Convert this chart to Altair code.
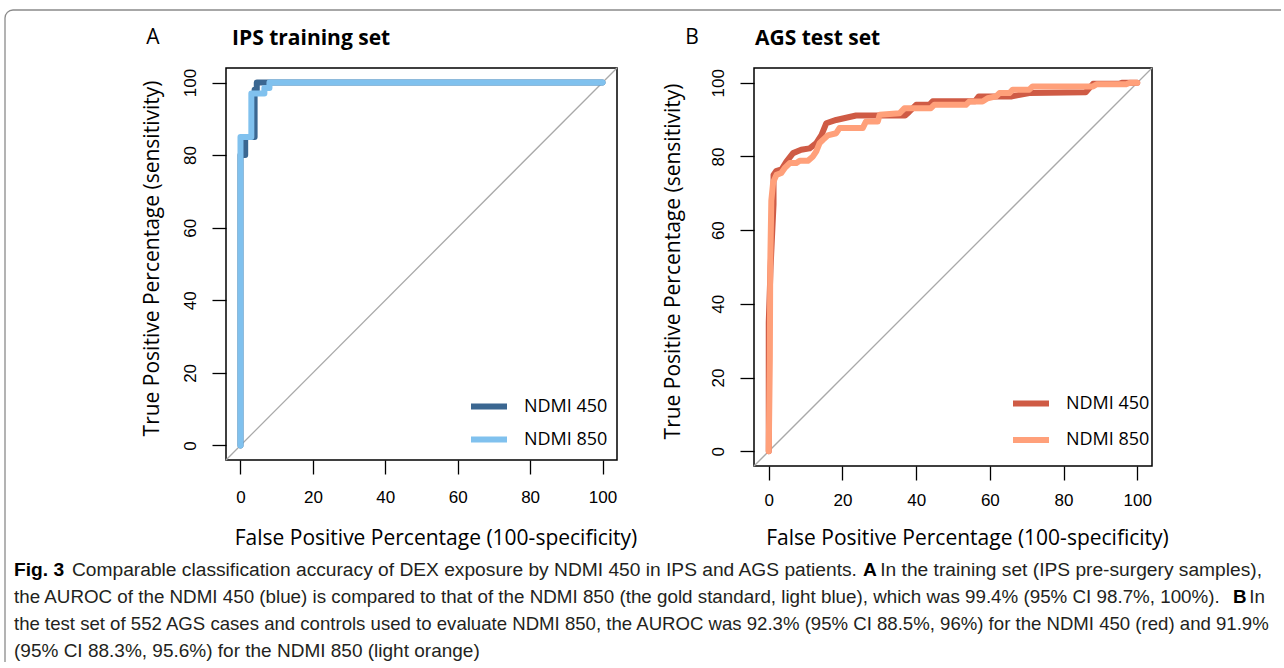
import altair as alt
import pandas as pd

# ---------------- data ----------------
series_names = ["NDMI 450", "NDMI 850"]

# Panel A: IPS training set
ips_450_fpr = [0, 0, 1.3, 1.3, 3.9, 3.9, 4.5, 4.5, 100]
ips_450_tpr = [0, 80, 80, 85, 85, 98, 98, 100, 100]
ips_850_fpr = [0, 0, 3.0, 3.0, 6.6, 6.6, 8.0, 8.0, 100]
ips_850_tpr = [0, 85, 85, 97, 97, 98.5, 98.5, 100, 100]

# Panel B: AGS test set
ags_450_fpr = [0, 0, 0.5, 1.3, 1.3, 2.0, 3.5, 4.8, 6.6, 8.8, 11.1, 12.9, 14.3, 15.6, 18.3, 23.7,
               37.0, 38.0, 40.0, 43.6, 44.5, 56.0, 57.0, 66.0, 67.0, 70.7, 86.0, 88.0, 95.0, 96.0, 100]
ags_450_tpr = [0, 35, 50, 67, 75, 76, 76.5, 78.6, 80.9, 81.8, 82.2, 83.6, 85.8, 89.0, 89.9, 91.1,
               91.1, 92.0, 94.0, 94.0, 95.0, 95.0, 96.3, 96.3, 96.5, 97.2, 97.4, 99.7, 99.7, 100, 100]
ags_850_fpr = [0, 0.3, 0.4, 0.7, 1.2, 2.1, 3.4, 4.3, 5.7, 7.5, 8.4, 10.6, 12.0, 12.9, 13.8, 14.7,
               16.0, 18.3, 19.2, 25.5, 26.4, 29.6, 30.1, 35.5, 36.8, 44.0, 44.9, 53.5, 54.4, 58.0,
               59.4, 61.7, 62.6, 65.3, 66.2, 70.7, 71.6, 88.0, 89.0, 97.0, 98.0, 100]
ags_850_tpr = [0, 25, 50, 68, 73, 75, 75.5, 76.8, 78.2, 78.2, 78.8, 78.8, 80.0, 81.4, 83.6, 84.5,
               85.7, 86.3, 87.7, 87.7, 89.5, 89.5, 91.3, 91.7, 93.1, 93.1, 94.0, 94.0, 94.9, 94.9,
               95.8, 96.3, 97.2, 97.2, 98.1, 98.1, 99.0, 99.0, 99.6, 99.6, 100, 100]

diag_vals = [-4, 104]
tick_vals = [0, 20, 40, 60, 80, 100]

ips_colors = ["#3b6791", "#80c1ee"]
ags_colors = ["#cf5b45", "#ffa07a"]

panel_titles = ["IPS training set", "AGS test set"]
panel_letters = ["A", "B"]
x_title = "False Positive Percentage (100-specificity)"
y_title = "True Positive Percentage (sensitivity)"

caption_lines = [
    "Comparable classification accuracy of DEX exposure by NDMI 450 in IPS and AGS patients.",
    "In the training set (IPS pre-surgery samples),",
    "the AUROC of the NDMI 450 (blue) is compared to that of the NDMI 850 (the gold standard, light blue), which was 99.4% (95% CI 98.7%, 100%).",
    "In",
    "the test set of 552 AGS cases and controls used to evaluate NDMI 850, the AUROC was 92.3% (95% CI 88.5%, 96%) for the NDMI 450 (red) and 91.9%",
    "(95% CI 88.3%, 95.6%) for the NDMI 850 (light orange)",
]

# ---------------- style ----------------
TICK_FONT = "Liberation Sans"
LAB_FONT = "Open Sans"
CAP_FONT = "Liberation Sans"
FRAME = "#8a8a8a"


def curve_df(fpr, tpr, name):
    return pd.DataFrame({"fpr": fpr, "tpr": tpr, "series": name, "order": range(len(fpr))})


def one():
    return alt.Data(values=[{}])


def text_mark(txt, x, y, size, weight="normal", align="left", font=CAP_FONT, color="#231f20"):
    return alt.Chart(one()).mark_text(
        text=txt, fontSize=size, fontWeight=weight, align=align, baseline="middle",
        font=font, color=color
    ).encode(x=alt.value(x), y=alt.value(y))


def panel(d450, d850, colors, W, H, title, letter, letter_xy, title_xy, ytitle_x, xtitle_y,
          xlab_pad, leg_x, leg_y, leg_gap, extra=None):
    xs = alt.Scale(domain=[-4, 104], nice=False, zero=False)
    ys = alt.Scale(domain=[-4, 104], nice=False, zero=False)
    xaxis = alt.Axis(values=tick_vals, domain=False, grid=False, tickSize=14, tickWidth=1.3,
                     tickColor="black", labelFont=TICK_FONT, labelFontSize=17, labelColor="black",
                     labelPadding=xlab_pad, labelBaseline="middle", labelFlush=False,
                     labelOverlap=False, title=x_title, titleFont=LAB_FONT,
                     titleFontSize=21, titleFontWeight="normal", titleColor="black",
                     titleX=W / 2 + 14, titleY=xtitle_y, titleBaseline="middle", titleAlign="center")
    yaxis = alt.Axis(values=tick_vals, domain=False, grid=False, tickSize=14, tickWidth=1.3,
                     tickColor="black", labelFont=TICK_FONT, labelFontSize=17, labelColor="black",
                     labelPadding=21.5, labelAngle=270, labelAlign="center", labelBaseline="middle",
                     labelFlush=False, labelOverlap=False,
                     title=y_title, titleFont=LAB_FONT,
                     titleFontSize=21, titleFontWeight="normal", titleColor="black",
                     titleAngle=270, titleX=ytitle_x, titleY=H / 2 - 6, titleBaseline="middle",
                     titleAlign="center")
    color = alt.Color("series:N", scale=alt.Scale(domain=series_names, range=colors),
                      legend=alt.Legend(orient="none", legendX=leg_x, legendY=leg_y, title=None,
                                        symbolType="stroke", symbolSize=1296, symbolStrokeWidth=6,
                                        labelFont=LAB_FONT, labelFontSize=18, labelColor="black",
                                        labelOffset=14, clipHeight=20, rowPadding=leg_gap, padding=0))
    diag = alt.Chart(pd.DataFrame({"fpr": diag_vals, "tpr": diag_vals})).mark_line(
        color="#a9a9a9", strokeWidth=1.3
    ).encode(x=alt.X("fpr:Q", scale=xs, axis=xaxis), y=alt.Y("tpr:Q", scale=ys, axis=yaxis))

    def curve(df):
        return alt.Chart(df).mark_line(strokeWidth=6, strokeCap="round", strokeJoin="round").encode(
            x=alt.X("fpr:Q", scale=xs, axis=xaxis), y=alt.Y("tpr:Q", scale=ys, axis=yaxis),
            color=color, order="order:Q")

    layers = [diag, curve(d450), curve(d850),
              text_mark(letter, letter_xy[0], letter_xy[1], 21, font=LAB_FONT, align="center",
                        color="black"),
              text_mark(title, title_xy[0], title_xy[1], 21, weight="bold", font=LAB_FONT,
                        color="black")]
    if extra:
        layers += extra
    return alt.layer(*layers).properties(width=W, height=H)


# panel origins in page coords: left (226, 68), right (754, 68)
OX, OY = 226, 68
RX = 754
A_X = 863
frame_and_caption = [
    alt.Chart(one()).mark_rule(color=FRAME, strokeWidth=1.3).encode(
        x=alt.value(13 - OX), x2=alt.value(1281 - OX), y=alt.value(10 - OY)),
    alt.Chart(one()).mark_rule(color=FRAME, strokeWidth=1.3).encode(
        x=alt.value(5 - OX), y=alt.value(18 - OY), y2=alt.value(662 - OY)),
    alt.Chart(one()).mark_arc(color=FRAME, innerRadius=7.35, outerRadius=8.65,
                              theta=4.712389, theta2=6.283185).encode(
        x=alt.value(13 - OX), y=alt.value(18 - OY)),
    text_mark("Fig. 3", 14 - OX, 570 - OY, 19.2, weight="bold", color="black"),
    text_mark(caption_lines[0], 72 - OX, 570 - OY, 19.2),
    text_mark("A", A_X - OX, 570 - OY, 19.2, weight="bold", color="black"),
    text_mark(caption_lines[1], 1262 - OX, 570 - OY, 19.2, align="right"),
    text_mark(caption_lines[2], 14 - OX, 597 - OY, 18.8),
    text_mark("B", 1233 - OX, 597 - OY, 18.8, weight="bold", color="black"),
    text_mark(caption_lines[3], 1265 - OX, 597 - OY, 18.8, align="right"),
    text_mark(caption_lines[4], 14 - OX, 624 - OY, 18.6),
    text_mark(caption_lines[5], 14 - OX, 651 - OY, 19),
]

ips = pd.concat([curve_df(ips_450_fpr, ips_450_tpr, "NDMI 450"),
                 curve_df(ips_850_fpr, ips_850_tpr, "NDMI 850")])
ags = pd.concat([curve_df(ags_450_fpr, ags_450_tpr, "NDMI 450"),
                 curve_df(ags_850_fpr, ags_850_tpr, "NDMI 850")])

left = panel(ips[ips.series == "NDMI 450"], ips[ips.series == "NDMI 850"], ips_colors, 391, 392,
             panel_titles[0], panel_letters[0], (153 - OX, 38 - OY), (232 - OX, 39 - OY),
             -74, 78, 23, 468 - OX, 406.5 - OY - 10, 13, extra=frame_and_caption)
right = panel(ags[ags.series == "NDMI 450"], ags[ags.series == "NDMI 850"], ags_colors, 398, 398,
              panel_titles[1], panel_letters[1], (692 - RX, 38 - OY), (755 - RX, 39 - OY),
              -81, 72, 20, 1010 - RX, 403.5 - OY - 10, 16.5)

chart = alt.hconcat(left, right, spacing=137, bounds="flush").resolve_scale(
    color="independent").resolve_legend(color="independent").properties(
    padding={"left": 3, "top": 8, "right": 0, "bottom": 0}, background="white"
).configure_view(stroke="black", strokeWidth=1.5)

chart.save("out.html", embed_options={"renderer": "svg", "actions": False})
